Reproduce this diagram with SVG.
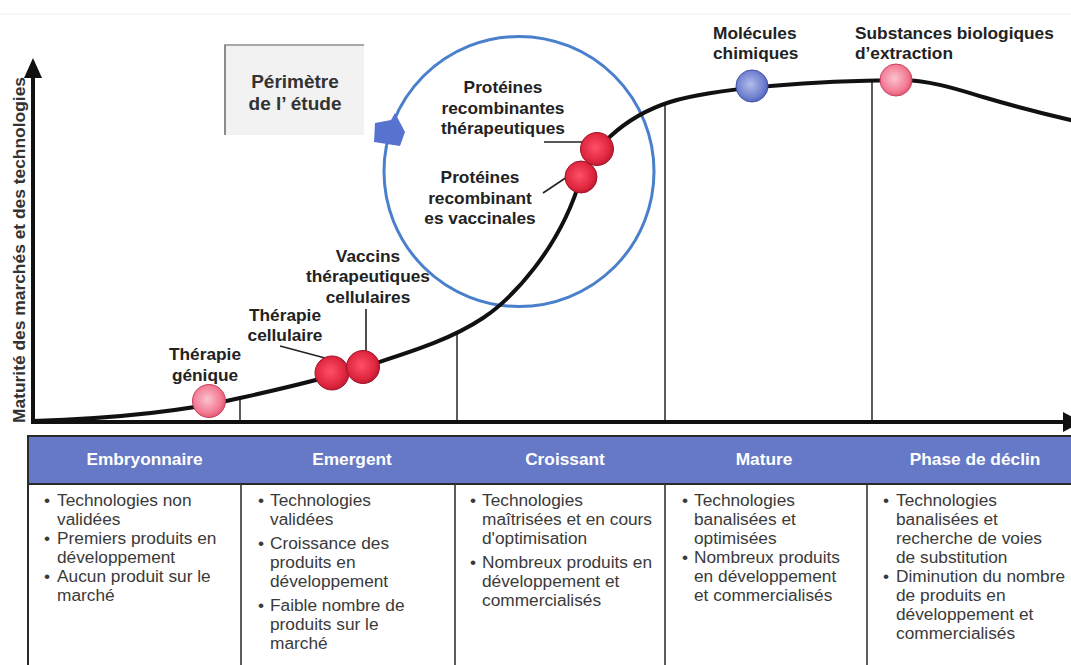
<svg xmlns="http://www.w3.org/2000/svg" width="1071" height="665" viewBox="0 0 1071 665">
<defs>
<style>
.lbl{font-family:"Liberation Sans",Arial,sans-serif;font-weight:bold;font-size:17.3px;fill:#222;}
.hdr{font-family:"Liberation Sans",Arial,sans-serif;font-weight:bold;font-size:17.3px;fill:#fff;text-anchor:middle;}
.bd{font-family:"Liberation Sans",Arial,sans-serif;font-size:17.3px;fill:#3a3a3a;}
.mid{text-anchor:middle;}
.lead{stroke:#222;stroke-width:1.6;fill:none;}
.div{stroke:#333;stroke-width:1.6;fill:none;}
.tb{stroke:#2a2a2a;stroke-width:2;fill:none;}
</style>
<radialGradient id="gRed" cx="0.45" cy="0.45" r="0.6">
<stop offset="0" stop-color="#ff5068"/>
<stop offset="0.7" stop-color="#e0263f"/>
<stop offset="1" stop-color="#b3182e"/>
</radialGradient>
<radialGradient id="gPink" cx="0.45" cy="0.45" r="0.6">
<stop offset="0" stop-color="#fbc3cf"/>
<stop offset="0.7" stop-color="#f27b94"/>
<stop offset="1" stop-color="#e04e6e"/>
</radialGradient>
<radialGradient id="gBlue" cx="0.45" cy="0.45" r="0.6">
<stop offset="0" stop-color="#b4bdea"/>
<stop offset="0.7" stop-color="#6f80cf"/>
<stop offset="1" stop-color="#4a5db8"/>
</radialGradient>
</defs>

<rect x="0" y="0" width="1071" height="665" fill="#fff"/>
<line x1="0" y1="14" x2="1071" y2="14" stroke="#eeeeee" stroke-width="1"/>

<!-- Y axis label -->
<text class="lbl" transform="translate(25,250) rotate(-90)" text-anchor="middle" style="fill:#333" textLength="346" lengthAdjust="spacingAndGlyphs">Maturité des marchés et des technologies</text>

<!-- Perimeter box -->
<g id="perimetre">
<rect x="225" y="45" width="139" height="90" fill="#f2f2f2"/>
<line x1="224" y1="45" x2="364" y2="45" stroke="#a8a8a8" stroke-width="2"/>
<line x1="225" y1="45" x2="225" y2="135" stroke="#8c8c8c" stroke-width="2"/>
<text class="lbl mid" x="295" y="88" style="font-size:19px;fill:#333">Périmètre</text>
<text class="lbl mid" x="295" y="110" style="font-size:19px;fill:#333">de l’ étude</text>
</g>

<!-- Scope circle and arrow -->
<g id="scope">
<circle cx="519" cy="171.5" r="135" fill="none" stroke="#4a7fcc" stroke-width="3"/>
<polygon points="375,123 391,120 395,113 405,132 400,146 374,142" fill="#5872cf"/>
</g>

<!-- chart dividers -->
<g id="dividers">
<line class="div" x1="240" y1="398" x2="240" y2="422"/>
<line class="div" x1="457" y1="333" x2="457" y2="422"/>
<line class="div" x1="665" y1="104" x2="665" y2="422"/>
<line class="div" x1="872" y1="81" x2="872" y2="422"/>
</g>

<!-- axes -->
<g id="axes">
<line x1="33" y1="422" x2="1066" y2="422" stroke="#111" stroke-width="4"/>
<polygon points="1063,412 1063,432 1082,422" fill="#111"/>
<line x1="33" y1="424" x2="33" y2="75" stroke="#111" stroke-width="4"/>
<polygon points="24,78 42,78 33,58" fill="#111"/>
</g>

<!-- curve -->
<path id="curve" d="M33,421 C130,418 190,410 240,398 C290,387 330,377 370,365 C410,352 450,340 483,318 C510,300 560,250 581,177 C590,153 620,118 670,102 C720,87 820,81 900,80 C930,80 960,90 983,97 C1010,105 1040,113 1075,121" fill="none" stroke="#111" stroke-width="4"/>

<!-- connectors -->
<g id="connectors">
<line class="lead" x1="280" y1="346" x2="325" y2="358"/>
<line class="lead" x1="366" y1="309" x2="366" y2="351"/>
<line class="lead" x1="544" y1="142" x2="583" y2="142"/>
<line class="lead" x1="543" y1="193" x2="567" y2="177"/>
</g>

<!-- nodes -->
<g id="therapie-genique">
<text class="lbl mid" x="205" y="360">Thérapie</text>
<text class="lbl mid" x="205" y="381">génique</text>
<circle cx="209" cy="401" r="16.5" fill="url(#gPink)" stroke="#c84060" stroke-width="1"/>
</g>
<g id="therapie-cellulaire">
<text class="lbl mid" x="285" y="321">Thérapie</text>
<text class="lbl mid" x="285" y="341">cellulaire</text>
<circle cx="332" cy="373" r="17" fill="url(#gRed)" stroke="#9e1428" stroke-width="1"/>
</g>
<g id="vaccins-therapeutiques">
<text class="lbl mid" x="368" y="262">Vaccins</text>
<text class="lbl mid" x="368" y="282">thérapeutiques</text>
<text class="lbl mid" x="368" y="303">cellulaires</text>
<circle cx="363" cy="367" r="16.5" fill="url(#gRed)" stroke="#9e1428" stroke-width="1"/>
</g>
<g id="proteines-vaccinales">
<text class="lbl mid" x="480" y="183">Protéines</text>
<text class="lbl mid" x="480" y="204">recombinant</text>
<text class="lbl mid" x="480" y="224">es vaccinales</text>
<circle cx="581" cy="177" r="16" fill="url(#gRed)" stroke="#9e1428" stroke-width="1"/>
</g>
<g id="proteines-therapeutiques">
<text class="lbl mid" x="503" y="93">Protéines</text>
<text class="lbl mid" x="503" y="114">recombinantes</text>
<text class="lbl mid" x="503" y="134">thérapeutiques</text>
<circle cx="597" cy="149" r="16.5" fill="url(#gRed)" stroke="#9e1428" stroke-width="1"/>
</g>
<g id="molecules-chimiques">
<text class="lbl" x="713" y="39">Molécules</text>
<text class="lbl" x="713" y="59">chimiques</text>
<circle cx="752" cy="86" r="16" fill="url(#gBlue)" stroke="#4050a8" stroke-width="1"/>
</g>
<g id="substances-biologiques">
<text class="lbl" x="855" y="39">Substances biologiques</text>
<text class="lbl" x="855" y="59">d’extraction</text>
<circle cx="896" cy="80" r="16" fill="url(#gPink)" stroke="#c84060" stroke-width="1"/>
</g>

<!-- table -->
<g id="table">
<rect x="28" y="436" width="1050" height="48" fill="#6679c6"/>
<line class="tb" x1="27" y1="436" x2="1071" y2="436"/>
<line class="tb" x1="27" y1="484" x2="1071" y2="484"/>
<line class="tb" x1="28" y1="435" x2="28" y2="665"/>
<line class="div" x1="241" y1="484" x2="241" y2="665"/>
<line class="div" x1="455" y1="484" x2="455" y2="665"/>
<line class="div" x1="665" y1="484" x2="665" y2="665"/>
<line class="div" x1="867" y1="484" x2="867" y2="665"/>
</g>

<g id="col-embryonnaire">
<text class="hdr" x="144.5" y="465">Embryonnaire</text>
<text class="bd" x="44" y="506">•</text><text class="bd" x="57" y="506">Technologies non</text>
<text class="bd" x="57" y="525">validées</text>
<text class="bd" x="44" y="544">•</text><text class="bd" x="57" y="544">Premiers produits en</text>
<text class="bd" x="57" y="563">développement</text>
<text class="bd" x="44" y="582">•</text><text class="bd" x="57" y="582">Aucun produit sur le</text>
<text class="bd" x="57" y="601">marché</text>
</g>

<g id="col-emergent">
<text class="hdr" x="352" y="465">Emergent</text>
<text class="bd" x="258" y="506">•</text><text class="bd" x="270" y="506">Technologies</text>
<text class="bd" x="270" y="525">validées</text>
<text class="bd" x="258" y="549">•</text><text class="bd" x="270" y="549">Croissance des</text>
<text class="bd" x="270" y="568">produits en</text>
<text class="bd" x="270" y="587">développement</text>
<text class="bd" x="258" y="611">•</text><text class="bd" x="270" y="611">Faible nombre de</text>
<text class="bd" x="270" y="630">produits sur le</text>
<text class="bd" x="270" y="649">marché</text>
</g>

<g id="col-croissant">
<text class="hdr" x="565" y="465">Croissant</text>
<text class="bd" x="470" y="506">•</text><text class="bd" x="482" y="506">Technologies</text>
<text class="bd" x="482" y="525">maîtrisées et en cours</text>
<text class="bd" x="482" y="544">d'optimisation</text>
<text class="bd" x="470" y="568">•</text><text class="bd" x="482" y="568">Nombreux produits en</text>
<text class="bd" x="482" y="587">développement et</text>
<text class="bd" x="482" y="606">commercialisés</text>
</g>

<g id="col-mature">
<text class="hdr" x="764" y="465">Mature</text>
<text class="bd" x="682" y="506">•</text><text class="bd" x="694" y="506">Technologies</text>
<text class="bd" x="694" y="525">banalisées et</text>
<text class="bd" x="694" y="544">optimisées</text>
<text class="bd" x="682" y="563">•</text><text class="bd" x="694" y="563">Nombreux produits</text>
<text class="bd" x="694" y="582">en développement</text>
<text class="bd" x="694" y="601">et commercialisés</text>
</g>

<g id="col-declin">
<text class="hdr" x="975" y="465">Phase de déclin</text>
<text class="bd" x="883" y="506">•</text><text class="bd" x="896" y="506">Technologies</text>
<text class="bd" x="896" y="525">banalisées et</text>
<text class="bd" x="896" y="544">recherche de voies</text>
<text class="bd" x="896" y="563">de substitution</text>
<text class="bd" x="883" y="582">•</text><text class="bd" x="896" y="582">Diminution du nombre</text>
<text class="bd" x="896" y="601">de produits en</text>
<text class="bd" x="896" y="620">développement et</text>
<text class="bd" x="896" y="639">commercialisés</text>
</g>
</svg>
